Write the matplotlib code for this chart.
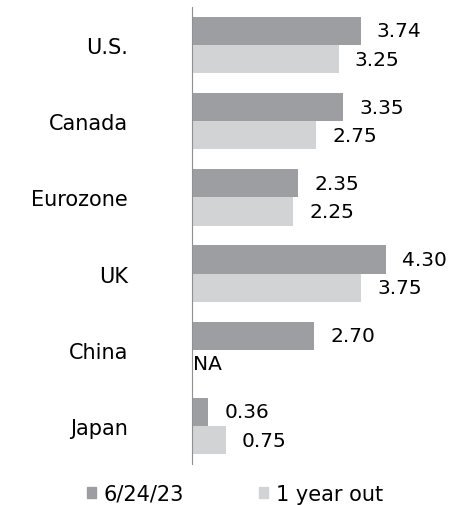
import matplotlib
matplotlib.use("Agg")
import matplotlib.pyplot as plt
from matplotlib.patches import Patch
import numpy as np

# data
CATEGORIES = ["U.S.", "Canada", "Eurozone", "UK", "China", "Japan"]
CURRENT = [3.74, 3.35, 2.35, 4.30, 2.70, 0.36]
YEAR_OUT = [3.25, 2.75, 2.25, 3.75, np.nan, 0.75]
SERIES = ["6/24/23", "1 year out"]

COLORS = ["#9d9ea2", "#d2d3d5"]

plt.rcParams['font.family'] = ['DejaVu Sans']

fig = plt.figure(figsize=(4.56, 5.06), dpi=100)
ax = fig.add_axes([192 / 456, 1 - 465 / 506, 264 / 456, 457 / 506])

y = np.arange(len(CATEGORIES))
h = 0.37
ax.barh(y - h / 2, CURRENT, height=h, color=COLORS[0], zorder=2)
ax.barh(y + h / 2, np.nan_to_num(YEAR_OUT), height=h, color=COLORS[1], zorder=2)

# value labels
for i in range(len(CATEGORIES)):
    ax.text(CURRENT[i] + 0.36, y[i] - h / 2, f"{CURRENT[i]:.2f}",
            ha="left", va="center", fontsize=14.5)
    if np.isnan(YEAR_OUT[i]):
        ax.text(0.02, y[i] + h / 2, "NA", ha="left", va="center", fontsize=14.5)
    else:
        ax.text(YEAR_OUT[i] + 0.36, y[i] + h / 2, f"{YEAR_OUT[i]:.2f}",
                ha="left", va="center", fontsize=14.5)

ax.set_xlim(0, 264 / 45.1)
ax.set_ylim(len(CATEGORIES) - 0.5, -0.5)
ax.set_yticks(y)
ax.set_yticklabels(CATEGORIES, fontsize=15)
ax.tick_params(axis="y", length=0, pad=46)
ax.set_xticks([])
for s in ["top", "right", "bottom"]:
    ax.spines[s].set_visible(False)
ax.spines["left"].set_color("#909090")
ax.spines["left"].set_linewidth(0.8)

handles = [Patch(color=COLORS[0]), Patch(color=COLORS[1])]
fig.legend(handles, SERIES, loc="center", bbox_to_anchor=(0.515, 0.022), ncol=2,
           frameon=False, fontsize=15, handlelength=0.45, handleheight=0.45,
           handletextpad=0.35, columnspacing=3.6, borderaxespad=0)

fig.savefig("out.png", dpi=100)
